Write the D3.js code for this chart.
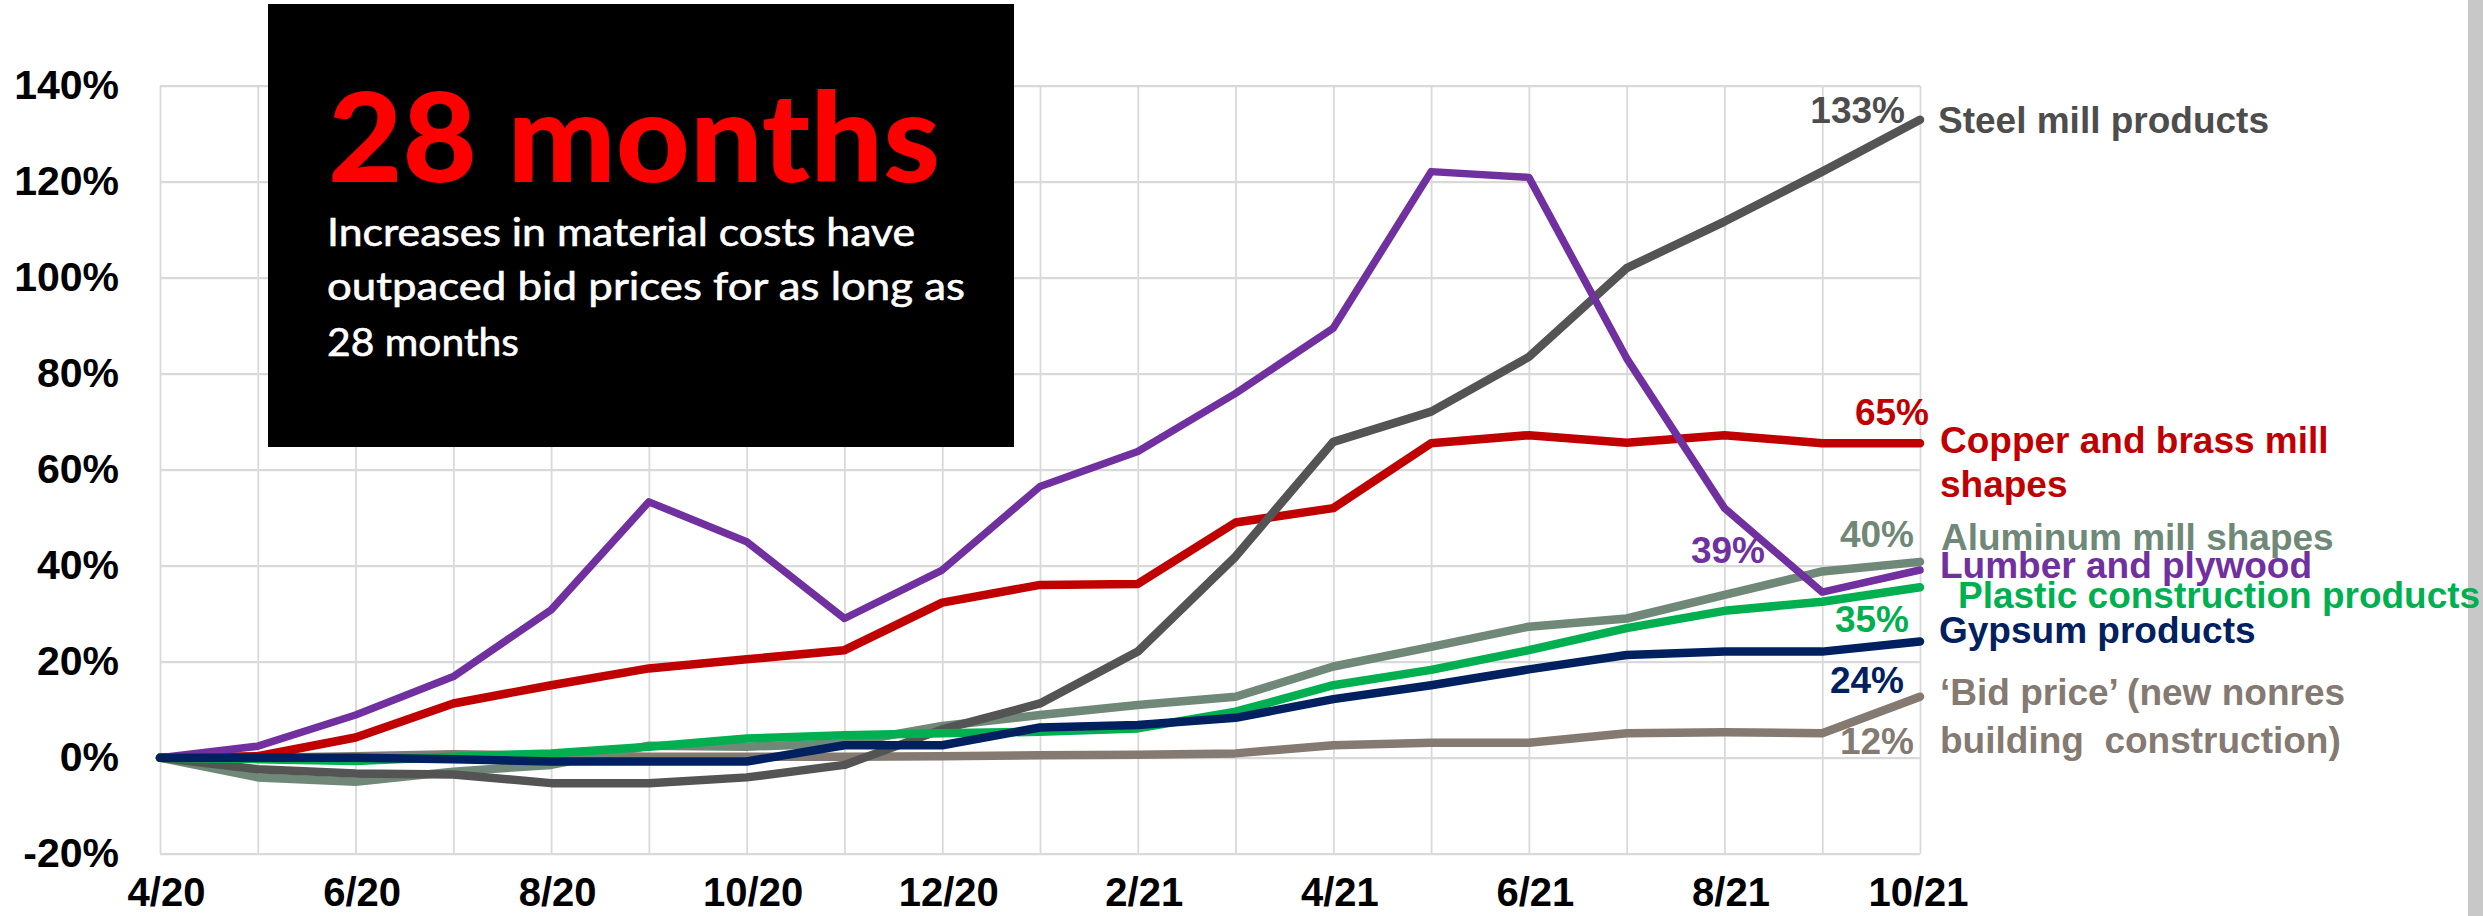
<!DOCTYPE html>
<html>
<head>
<meta charset="utf-8">
<script src="https://cdnjs.cloudflare.com/ajax/libs/d3/7.8.5/d3.min.js"></script>
<style>
  html, body { margin: 0; padding: 0; background: #ffffff; }
  svg { display: block; }
</style>
</head>
<body>
<div id="chart"></div>
<script>
// ---------------- data ----------------
const months = ["4/20","5/20","6/20","7/20","8/20","9/20","10/20","11/20","12/20","1/21","2/21","3/21","4/21","5/21","6/21","7/21","8/21","9/21","10/21"];
const xTickLabels = ["4/20","6/20","8/20","10/20","12/20","2/21","4/21","6/21","8/21","10/21"];
const yTickValues = [-20, 0, 20, 40, 60, 80, 100, 120, 140];

const steel    = [0, -2.4, -3.3, -3.5, -5.3, -5.3, -4.1, -1.5, 5.9, 11.3, 22.1, 41.9, 65.8, 72.1, 83.5, 102.0, 111.7, 122.1, 132.9];
const copper   = [0, 0.3, 4.2, 11.3, 15.1, 18.6, 20.5, 22.4, 32.3, 36.0, 36.2, 49.0, 52.0, 65.5, 67.2, 65.6, 67.2, 65.5, 65.5];
const lumber   = [0, 2.4, 8.9, 16.9, 30.8, 53.3, 45.0, 29.0, 39.1, 56.5, 63.8, 75.9, 89.5, 122.1, 120.9, 83.2, 52.0, 34.5, 39.1];
const aluminum = [0, -4.1, -5.0, -2.9, -1.5, 2.5, 2.3, 3.0, 6.6, 8.9, 11.0, 12.7, 19.0, 23.1, 27.3, 29.0, 33.9, 38.8, 40.8];
const plastic  = [0, -0.3, -0.7, 0.2, 0.9, 2.3, 4.0, 4.7, 5.1, 5.4, 6.1, 9.6, 15.1, 18.3, 22.4, 27.0, 30.6, 32.5, 35.5];
const gypsum   = [0, 0, 0, -0.3, -0.8, -0.8, -0.8, 2.6, 2.6, 6.3, 6.8, 8.3, 12.2, 15.1, 18.4, 21.4, 22.1, 22.1, 24.2];
const bidPrice = [0, 0, 0.3, 0.7, 0.5, 0.2, 0.2, 0.2, 0.3, 0.5, 0.6, 0.9, 2.6, 3.1, 3.1, 5.1, 5.3, 5.1, 12.7];

const seriesNames = ["Steel mill products", "Copper and brass mill shapes", "Lumber and plywood",
  "Aluminum mill shapes", "Plastic construction products", "Gypsum products",
  "\u2018Bid price\u2019 (new nonres building construction)"];
const endLabels = ["133%", "65%", "39%", "40%", "35%", "24%", "12%"];

const boxTitle = "28 months";
const boxLines = ["Increases in material costs have", "outpaced bid prices for as long as", "28 months"];

// ---------------- layout / style ----------------
const W = 2483, H = 916;
const plot = { left: 160, right: 1920, top: 85.7, bottom: 853.7 };
const font = "'Liberation Sans', Arial, sans-serif";

const series = [
  { key: "bid",      values: bidPrice, color: "#857a72", width: 8.5 },
  { key: "aluminum", values: aluminum, color: "#6f8877", width: 8.5 },
  { key: "copper",   values: copper,   color: "#c00000", width: 8.5 },
  { key: "steel",    values: steel,    color: "#545454", width: 8.5 },
  { key: "lumber",   values: lumber,   color: "#7030a0", width: 7.5 },
  { key: "plastic",  values: plastic,  color: "#00b050", width: 8.5 },
  { key: "gypsum",   values: gypsum,   color: "#002060", width: 8.5 }
];

const svg = d3.select("#chart").append("svg")
  .attr("width", W).attr("height", H)
  .attr("viewBox", `0 0 ${W} ${H}`);

svg.append("rect").attr("x", 0).attr("y", 0).attr("width", W).attr("height", H).attr("fill", "#ffffff");

const x = d3.scalePoint().domain(months).range([plot.left, plot.right]);
const y = d3.scaleLinear().domain([-20, 140]).range([plot.bottom, plot.top]);

// gridlines
const gridY = svg.append("g").attr("transform", `translate(${plot.left},0)`)
  .call(d3.axisLeft(y).tickValues(yTickValues).tickSize(-(plot.right - plot.left)).tickFormat(""));
gridY.select(".domain").remove();
gridY.selectAll("line").attr("stroke", "#d9d9d9").attr("stroke-width", 2.2);

const gridX = svg.append("g").attr("transform", `translate(0,${plot.bottom})`)
  .call(d3.axisBottom(x).tickValues(months).tickSize(-(plot.bottom - plot.top)).tickFormat(""));
gridX.select(".domain").remove();
gridX.selectAll("line").attr("stroke", "#d9d9d9").attr("stroke-width", 1.8);

// y axis labels
const yAxis = svg.append("g").attr("transform", `translate(${plot.left},0)`)
  .call(d3.axisLeft(y).tickValues(yTickValues).tickSize(0).tickPadding(41).tickFormat(d => d + "%"));
yAxis.select(".domain").remove();
yAxis.selectAll("text").attr("font-family", font).attr("font-weight", "bold")
  .attr("font-size", 41).attr("fill", "#000");

// x axis labels
const xAxis = svg.append("g").attr("transform", `translate(0,${plot.bottom})`)
  .call(d3.axisBottom(x).tickValues(xTickLabels).tickSize(0).tickPadding(24));
xAxis.select(".domain").remove();
xAxis.selectAll("text").attr("font-family", font).attr("font-weight", "bold")
  .attr("font-size", 40).attr("fill", "#000").attr("dx", d => d === "10/21" ? -2 : 6);

// lines
const line = d3.line().x((d, i) => x(months[i])).y(d => y(d));
svg.append("g").selectAll("path").data(series).join("path")
  .attr("d", d => line(d.values))
  .attr("fill", "none")
  .attr("stroke", d => d.color)
  .attr("stroke-width", d => d.width)
  .attr("stroke-linejoin", "round")
  .attr("stroke-linecap", "round");

// right-side strip
svg.append("rect").attr("x", 2468).attr("y", 0).attr("width", 15).attr("height", H).attr("fill", "#c8c8c8");

// series labels
const colorOf = k => series.find(s => s.key === k).color;
const nameLabels = [
  { lines: [seriesNames[0]], key: "steel", x: 1938, y: 133, color: "#4d4d4d" },
  { lines: ["Copper and brass mill", "shapes"], key: "copper", x: 1940, y: 453, dy: 44, color: colorOf("copper") },
  { lines: [seriesNames[3]], key: "aluminum", x: 1941, y: 550, color: colorOf("aluminum") },
  { lines: [seriesNames[2]], key: "lumber", x: 1940, y: 578, color: colorOf("lumber") },
  { lines: [seriesNames[4]], key: "plastic", x: 1958, y: 608, color: colorOf("plastic") },
  { lines: [seriesNames[5]], key: "gypsum", x: 1939, y: 643, color: colorOf("gypsum") },
  { lines: ["\u2018Bid price\u2019 (new nonres", "building\u00a0 construction)"], key: "bid", x: 1940, y: 705, dy: 48, color: colorOf("bid") }
];
nameLabels.forEach(l => {
  const t = svg.append("text").attr("font-family", font).attr("font-weight", "bold")
    .attr("font-size", 37).attr("fill", l.color);
  l.lines.forEach((s, i) => {
    t.append("tspan").attr("x", l.x).attr("y", l.y + i * (l.dy || 0)).text(s);
  });
});

// end value labels (right-anchored)
const valueLabels = [
  { text: endLabels[0], key: "steel", x: 1905, y: 123, color: "#4d4d4d" },
  { text: endLabels[1], key: "copper", x: 1929, y: 425 },
  { text: endLabels[2], key: "lumber", x: 1765, y: 563 },
  { text: endLabels[3], key: "aluminum", x: 1914, y: 547 },
  { text: endLabels[4], key: "plastic", x: 1909, y: 632 },
  { text: endLabels[5], key: "gypsum", x: 1904, y: 693 },
  { text: endLabels[6], key: "bid", x: 1914, y: 754 }
];
valueLabels.forEach(l => {
  svg.append("text").attr("x", l.x).attr("y", l.y).attr("text-anchor", "end")
    .attr("font-family", font).attr("font-weight", "bold").attr("font-size", 37)
    .attr("fill", l.color || colorOf(l.key)).text(l.text);
});

// black info box
const box = svg.append("g");
box.append("rect").attr("x", 268).attr("y", 4).attr("width", 746).attr("height", 443).attr("fill", "#000");
box.append("text").attr("x", 328).attr("y", 182)
  .attr("font-family", "Lato, 'Liberation Sans', sans-serif").attr("font-weight", 900)
  .attr("font-size", 124).attr("fill", "#ff0000")
  .attr("textLength", 612).attr("lengthAdjust", "spacingAndGlyphs")
  .text(boxTitle);
const lineWidths = [588, 638, 192];
const lineYs = [246, 300, 356];
boxLines.forEach((s, i) => {
  box.append("text").attr("x", 327).attr("y", lineYs[i])
    .attr("font-family", "Lato, 'Liberation Sans', sans-serif").attr("font-weight", 400)
    .attr("font-size", 39).attr("fill", "#ffffff")
    .attr("stroke", "#ffffff").attr("stroke-width", 0.6)
    .attr("textLength", lineWidths[i]).attr("lengthAdjust", "spacingAndGlyphs")
    .text(s);
});
</script>
</body>
</html>
